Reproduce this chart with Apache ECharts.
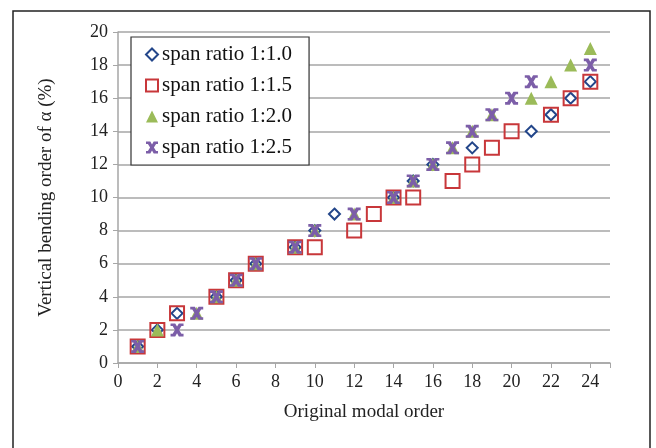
<!DOCTYPE html>
<html>
<head>
<meta charset="utf-8">
<script src="https://cdn.jsdelivr.net/npm/echarts@6/dist/echarts.min.js"></script>
<style>
  html, body { margin: 0; padding: 0; background: #fff; }
  #chart { width: 656px; height: 448px; }
</style>
</head>
<body>
<div id="chart"></div>
<script>
// modal order (x) / vertical bending order (y) for each span ratio
const names = ["span ratio 1:1.0", "span ratio 1:1.5", "span ratio 1:2.0", "span ratio 1:2.5"];

const x10 = [1, 2, 3, 5, 6, 7, 9, 10, 11, 14, 15, 16, 18, 21, 22, 23, 24];
const y10 = [1, 2, 3, 4, 5, 6, 7, 8, 9, 10, 11, 12, 13, 14, 15, 16, 17];

const x15 = [1, 2, 3, 5, 6, 7, 9, 10, 12, 13, 14, 15, 17, 18, 19, 20, 22, 23, 24];
const y15 = [1, 2, 3, 4, 5, 6, 7, 7, 8, 9, 10, 10, 11, 12, 13, 14, 15, 16, 17];

const x20 = [1, 2, 4, 5, 6, 7, 9, 10, 12, 14, 15, 16, 17, 18, 19, 21, 22, 23, 24];
const y20 = [1, 2, 3, 4, 5, 6, 7, 8, 9, 10, 11, 12, 13, 14, 15, 16, 17, 18, 19];

const x25 = [1, 3, 4, 5, 6, 7, 9, 10, 12, 14, 15, 16, 17, 18, 19, 20, 21, 24];
const y25 = [1, 2, 3, 4, 5, 6, 7, 8, 9, 10, 11, 12, 13, 14, 15, 16, 17, 18];

const pairs = (xs, ys) => xs.map((x, i) => [x, ys[i]]);

// X with caps, like the spreadsheet "star" marker
const starPath = "path://M0,0H3.6L5,2.4L6.4,0H10V2H8.4L6.6,5L8.4,8H10V10H6.4L5,7.6L3.6,10H0V8H1.6L3.4,5L1.6,2H0Z";

const font = "'Liberation Serif', 'DejaVu Serif', serif";

const chart = echarts.init(document.getElementById("chart"));
chart.setOption({
  animation: false,
  textStyle: { fontFamily: font },
  graphic: [{
    type: "rect",
    shape: { x: 13, y: 11, width: 637, height: 460 },
    style: { fill: "none", stroke: "#222", lineWidth: 1.5 },
    silent: true
  }],
  grid: { left: 118, right: 46, top: 32, bottom: 85 },
  legend: {
    orient: "vertical",
    left: 131,
    top: 37,
    padding: [7, 17, 7, 14],
    itemGap: 10,
    itemWidth: 12,
    itemHeight: 12,
    borderColor: "#333",
    borderWidth: 1.2,
    backgroundColor: "#fff",
    textStyle: { fontFamily: font, fontSize: 21, color: "#111", padding: [0, 0, 0, -1] },
    data: names
  },
  xAxis: {
    type: "value",
    min: 0,
    max: 25,
    interval: 2,
    name: "Original modal order",
    nameLocation: "middle",
    nameGap: 40,
    nameTextStyle: { fontFamily: font, fontSize: 19, color: "#222" },
    axisLine: { show: true, lineStyle: { color: "#a6a6a6", width: 1.5 } },
    axisTick: { show: true, length: 5, lineStyle: { color: "#a6a6a6" } },
    axisLabel: { fontFamily: font, fontSize: 18, color: "#222", margin: 10,
      formatter: v => (v > 24 ? "" : v) },
    splitLine: { show: false }
  },
  yAxis: {
    type: "value",
    min: 0,
    max: 20,
    interval: 2,
    name: "Vertical bending order of α (%)",
    nameLocation: "middle",
    nameGap: 62,
    nameTextStyle: { fontFamily: font, fontSize: 19, color: "#222" },
    axisLine: { show: true, lineStyle: { color: "#a6a6a6", width: 1.5 } },
    axisTick: { show: true, length: 5, lineStyle: { color: "#a6a6a6" } },
    axisLabel: { fontFamily: font, fontSize: 18, color: "#222", margin: 10 },
    splitLine: { show: true, lineStyle: { color: "#a6a6a6", width: 1.5 } }
  },
  series: [
    {
      name: names[0], type: "scatter", symbol: "diamond", symbolSize: 11,
      itemStyle: { color: "#fff", borderColor: "#23468a", borderWidth: 2, opacity: 1 },
      data: pairs(x10, y10), z: 2
    },
    {
      name: names[1], type: "scatter", symbol: "rect", symbolSize: 14,
      itemStyle: { color: "rgba(255,255,255,0)", borderColor: "#c8373a", borderWidth: 2, opacity: 1 },
      data: pairs(x15, y15), z: 3
    },
    {
      name: names[2], type: "scatter", symbol: "triangle", symbolSize: 13,
      itemStyle: { color: "#9bbb59", opacity: 1 },
      data: pairs(x20, y20), z: 4
    },
    {
      name: names[3], type: "scatter", symbol: starPath, symbolSize: 13,
      itemStyle: { color: "#7c5ea8", opacity: 1 },
      data: pairs(x25, y25), z: 5
    }
  ]
});
</script>
</body>
</html>
